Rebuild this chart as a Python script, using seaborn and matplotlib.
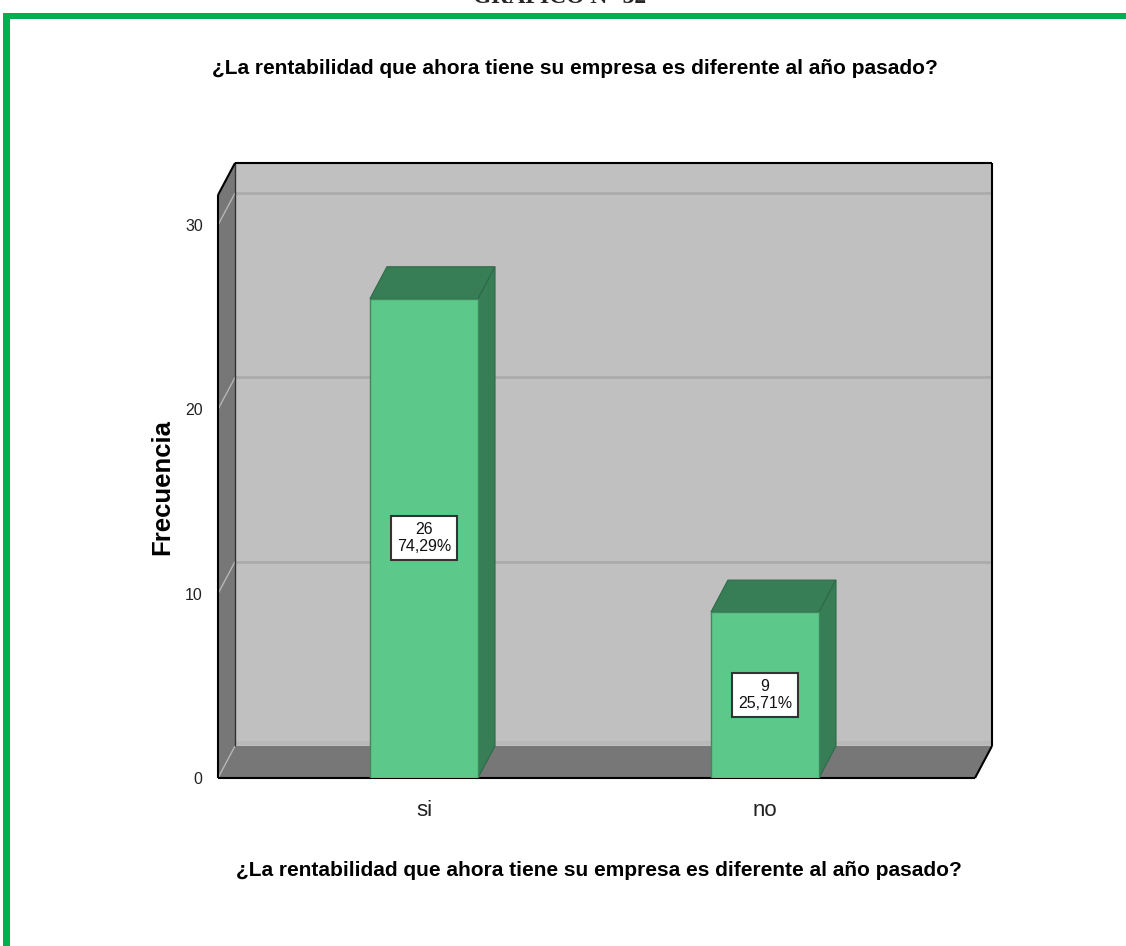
import matplotlib
matplotlib.use('Agg')
import matplotlib.pyplot as plt
from matplotlib.patches import Polygon, Rectangle
import seaborn as sns

# Datos
categorias = ['si', 'no']
frecuencia = [26, 9]
porcentajes = ['74,29%', '25,71%']
ticks_y = [0, 10, 20, 30]

titulo = '¿La rentabilidad que ahora tiene su empresa es diferente al año pasado?'
NARROW = ['Liberation Sans Narrow', 'Liberation Sans', 'DejaVu Sans']

sns.set_style('white')
plt.rcParams['font.family'] = ['Liberation Sans', 'DejaVu Sans']

fig = plt.figure(figsize=(11.26, 9.46), dpi=100)
W, H = 1126, 946
ax = fig.add_axes([218 / W, 1 - 778 / H, (975 - 218) / W, (778 - 195) / H])

verde = '#5CC98A'
verde_osc = '#377D55'
sns.barplot(x=categorias, y=frecuencia, color=verde, width=0.317,
            edgecolor='#3E8A5E', linewidth=1, saturation=1, ax=ax, zorder=3)

xl, xr = -0.604, 1.616
ymax = 31.63
ax.set_xlim(xl, xr)
ax.set_ylim(0, ymax)

# profundidad 3D en unidades de datos (17 px a la derecha, 32 px arriba)
fig.canvas.draw()
p0 = ax.transData.transform((0, 0))
ddx, ddy = ax.transData.inverted().transform(p0 + [17, 32])

def poly(pts, fc, z, ec='none', lw=0):
    ax.add_patch(Polygon(pts, closed=True, facecolor=fc, edgecolor=ec,
                         linewidth=lw, zorder=z, clip_on=False))

def linea(xs, ys, c, lw, z):
    ax.plot(xs, ys, color=c, lw=lw, zorder=z, clip_on=False, solid_capstyle='butt')

# pared de fondo, piso y pared izquierda
poly([(xl + ddx, ddy), (xr + ddx, ddy), (xr + ddx, ymax + ddy), (xl + ddx, ymax + ddy)], '#C0C0C0', 0)
poly([(xl, 0), (xr, 0), (xr + ddx, ddy), (xl + ddx, ddy)], '#777777', 1)
poly([(xl, 0), (xl, ymax), (xl + ddx, ymax + ddy), (xl + ddx, ddy)], '#777777', 1)

for t in ticks_y[1:]:
    linea([xl + ddx, xr + ddx], [t + ddy, t + ddy], '#ABABAB', 2, 0.5)
    linea([xl, xl + ddx], [t, t + ddy], '#B5B5B5', 1, 1.5)
linea([xl + ddx, xr + ddx], [ddy + 0.15, ddy + 0.15], '#B8B8B8', 3, 0.6)
linea([xl, xl + ddx], [0, ddy], '#B5B5B5', 1, 1.5)

# bordes negros
linea([xl, xl], [0, ymax], 'black', 1.5, 2)
linea([xl, xl + ddx], [ymax, ymax + ddy], 'black', 1.5, 2)
linea([xl + ddx, xr + ddx], [ymax + ddy, ymax + ddy], 'black', 1.5, 2)
linea([xr + ddx, xr + ddx], [ymax + ddy, ddy], 'black', 1.5, 2)
linea([xr + ddx, xr], [ddy, 0], 'black', 1.5, 2)
linea([xl, xr], [0, 0], 'black', 1.5, 2)
linea([xl + ddx, xl + ddx], [ddy, ymax + ddy], '#333333', 1, 1.6)

# caras superior y lateral de las barras + etiquetas
for bar, n, pct in zip(ax.patches, frecuencia, porcentajes):
    x0 = bar.get_x()
    x1 = x0 + bar.get_width()
    h = bar.get_height()
    poly([(x0, h), (x1, h), (x1 + ddx, h + ddy), (x0 + ddx, h + ddy)], verde_osc, 2.8, '#2F6A48', 0.8)
    poly([(x1, 0), (x1, h), (x1 + ddx, h + ddy), (x1 + ddx, ddy)], verde_osc, 2.8, '#2F6A48', 0.8)
    ax.text((x0 + x1) / 2, h / 2, f'{n}\n{pct}', ha='center', va='center',
            fontsize=11.5, family=NARROW, linespacing=1.15, zorder=5, color='#111111',
            bbox=dict(boxstyle='square,pad=0.38', fc='white', ec='#333333', lw=1.5))

sns.despine(ax=ax, left=True, bottom=True)
ax.set_yticks(ticks_y)
ax.set_yticklabels([str(t) for t in ticks_y], family=NARROW, fontsize=11.5, color='#222222')
ax.set_xticks(range(len(categorias)))
ax.set_xticklabels(categorias, family=NARROW, fontsize=16, color='#222222')
ax.tick_params(axis='y', length=0, pad=11)
ax.tick_params(axis='x', length=0, pad=16)
ax.set_xlabel('')
ax.set_ylabel('Frecuencia', fontsize=18.5, fontweight='bold', color='black')
ax.yaxis.set_label_coords((174 - 218) / (975 - 218), (778 - 487) / (778 - 195))

fig.text(575 / W, 1 - 68 / H, titulo, ha='center', va='center',
         fontsize=15, fontweight='bold', family=NARROW, color='black')
fig.text(599 / W, 1 - 870 / H, titulo, ha='center', va='center',
         fontsize=15, fontweight='bold', family=NARROW, color='black')
fig.text(560 / W, 1 - 3 / H, 'GRÁFICO N° 32', ha='center', va='baseline',
         fontsize=17, fontweight='bold', family=['Liberation Serif', 'DejaVu Serif'])

# marco verde
fig.add_artist(Rectangle((3 / W, 1 - 19 / H), 1, 6 / H, transform=fig.transFigure,
                         facecolor='#00B050', edgecolor='none'))
fig.add_artist(Rectangle((3 / W, 0), 7 / W, 1 - 13 / H, transform=fig.transFigure,
                         facecolor='#00B050', edgecolor='none'))

fig.savefig('out.png', dpi=100)
